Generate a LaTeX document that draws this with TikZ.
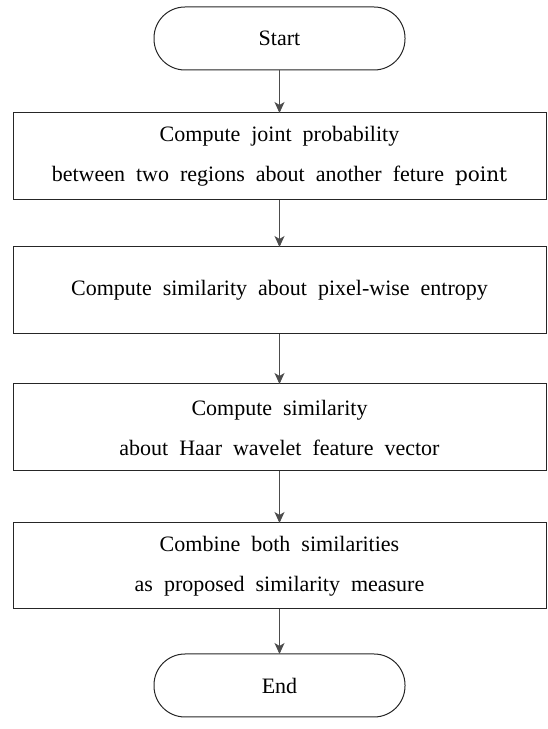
\documentclass[tikz,border=0pt]{standalone}
\usepackage{fontspec}
\setmainfont{Liberation Serif}
\newfontfamily\pointfont{DejaVu Serif}
\usetikzlibrary{arrows.meta}
\newcommand\myboxfont{\fontsize{22}{40}\selectfont\spaceskip=11pt plus 3pt minus 1pt\relax}
\begin{document}
\begin{tikzpicture}[x=1pt,y=1pt,
  every node/.style={inner sep=0pt,outer sep=0pt},
  txt/.style={font=\myboxfont, align=center},
  terminal/.style={draw=black!85, line width=1pt, rounded corners=31pt, minimum width=251pt, minimum height=63pt, txt},
  procbox/.style={draw=black!85, line width=1pt, minimum width=533pt, minimum height=87pt, txt},
  flow/.style={draw=black!70, line width=0.9pt, -{Stealth[length=11pt,width=10pt,inset=3pt]}}
]
\useasboundingbox (0,0) rectangle (547,729);
\node[terminal] (start) at (279.5,690.5) {Start};
\node[procbox] (b1) at (279.5,572.5) {Compute joint probability\\between two regions about another feture {\pointfont\fontsize{20}{40}\selectfont point}};
\node[procbox] (b2) at (279.5,438.5) {Compute similarity about pixel-wise entropy};
\node[procbox] (b3) at (279.5,301.5) {Compute similarity\\about Haar wavelet feature vector};
\node[procbox, minimum height=86pt] (b4) at (279.5,163) {Combine both similarities\\as proposed similarity measure};
\node[terminal] (end) at (279.5,43.5) {End};
\draw[flow] (start) -- (b1);
\draw[flow] (b1) -- (b2);
\draw[flow] (b2) -- (b3);
\draw[flow] (b3) -- (b4);
\draw[flow] (b4) -- (end);
\end{tikzpicture}
\end{document}
